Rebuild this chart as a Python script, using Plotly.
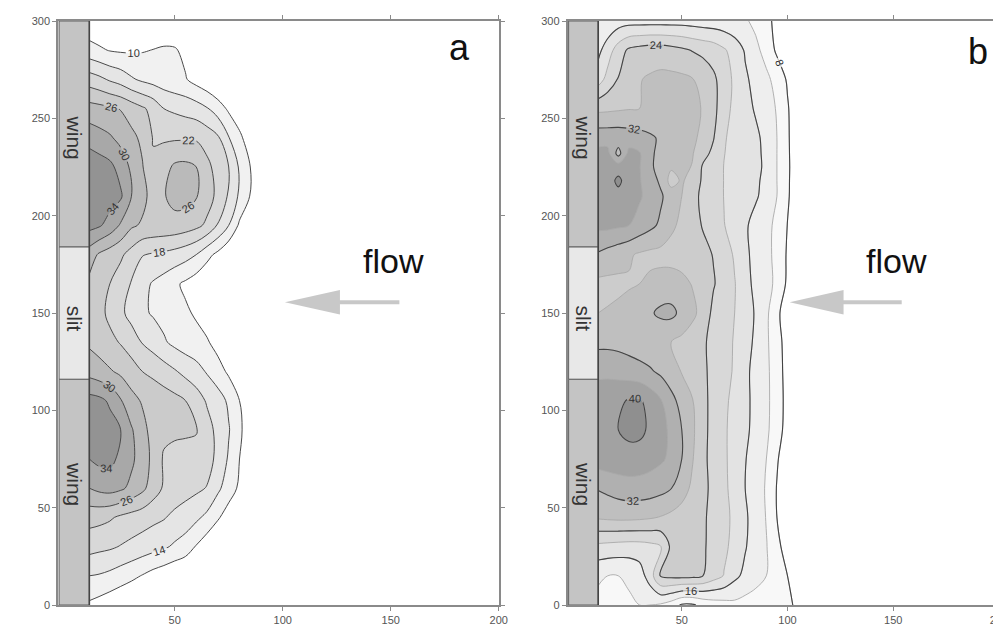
import plotly.graph_objects as go

# ---------------- data ----------------
XA = [10.5, 15, 20, 25, 30, 35, 40, 45, 50, 55, 60, 65, 70, 75, 80, 85, 90, 95, 100, 110]
YA = [0, 15, 30, 45, 60, 75, 90, 105, 120, 135, 150, 165, 180, 195, 210, 225, 240, 255, 270, 285, 300]
ZA = [
    [9.3, 8.5, 7.5, 6.5, 5.5, 4.8, 4, 3.5, 3, 2.5, 2, 1.5, 1, 0.7, 0.5, 0.3, 0, 0, 0, 0],
    [14, 13.7, 13, 12, 11, 9.8, 8.5, 7.5, 6.5, 5.5, 4.5, 3.5, 2.5, 2, 1.5, 1, 0.5, 0, 0, 0],
    [19.5, 19, 18.6, 17.8, 17, 16.2, 15.4, 14.6, 13.4, 12.3, 9.7, 7.5, 5.5, 4, 2.5, 1.5, 1, 0.5, 0, 0],
    [23.5, 23.2, 22.5, 21.3, 20.5, 19.8, 19, 18.3, 17, 16, 14.8, 13, 10.5, 8, 6, 4, 2, 1, 0, 0],
    [30, 31, 31.5, 30.7, 29, 27, 24, 21.5, 20.5, 19.6, 18.8, 17.8, 14.8, 12, 9.3, 6.5, 4, 2, 1, 0],
    [34, 35, 35.2, 33, 30.8, 28, 25, 21.5, 21, 20.8, 20.5, 19.5, 17, 13.5, 10, 7, 4.5, 2.5, 1, 0],
    [37, 36.5, 35.5, 34, 30.4, 27.3, 24.5, 23, 22.6, 22.5, 22.3, 19.6, 16.8, 14.3, 10.8, 7.5, 5, 3, 1.5, 0],
    [35.5, 35, 33.4, 30.3, 27.3, 25.6, 24.8, 24, 23.2, 22, 20, 17.5, 15.8, 13.3, 10, 7, 4.5, 2.5, 1, 0],
    [28.5, 27.6, 26.4, 25.2, 23.8, 22, 21, 19.8, 18.4, 16.8, 15.5, 13.6, 11.6, 9.3, 6.5, 4, 2.5, 1, 0, 0],
    [25.3, 24.3, 23.1, 21.7, 19.9, 17.8, 16.3, 14.5, 13, 12, 11.3, 10.4, 8.5, 6.5, 4.5, 3, 2, 1, 0, 0],
    [24.5, 23.3, 21, 18.8, 16.7, 14.7, 13.6, 12.7, 11.7, 10.6, 9.5, 8, 6.5, 5, 3.5, 2.5, 1.5, 0.5, 0, 0],
    [25, 23.8, 22, 20, 17.7, 15.3, 13.6, 12.3, 10.7, 9.3, 7.8, 6.5, 5, 3.5, 2.5, 1.5, 1, 0.5, 0, 0],
    [28, 25.5, 24, 22.7, 20.5, 18.2, 17.6, 17.2, 16.5, 15.5, 14, 11.2, 9, 6.5, 4.5, 3, 2, 1, 0.5, 0],
    [35.3, 34.5, 32.5, 29.5, 26.6, 25.5, 25, 24.8, 24.6, 24, 23, 21.2, 17.7, 14, 9.3, 6.5, 4.5, 3, 1.5, 0],
    [37.2, 36.5, 35.8, 34.6, 30, 27.2, 24.5, 25.7, 27.3, 27.5, 26.3, 23.7, 21, 17.5, 13.3, 9.8, 7, 4.5, 2.5, 0],
    [36.8, 36, 35, 32.5, 29.2, 26.3, 22.5, 24.5, 26.7, 27, 26, 23, 20.5, 18, 13.5, 10, 7, 4.5, 2.5, 0],
    [32.4, 31.5, 30.5, 28.8, 27, 25.2, 21.8, 21.5, 21.5, 21.5, 21.5, 20.3, 18.6, 14.2, 11, 7.5, 5, 3, 1.5, 0],
    [27.6, 27.2, 26.6, 25.8, 24.2, 22.6, 20.8, 18, 17.3, 16.6, 15.8, 14.3, 12, 9.3, 7, 5, 3, 1.5, 0.5, 0],
    [20, 19, 17.5, 16.3, 14.5, 13.3, 12.5, 11.8, 11, 10.3, 8.5, 7, 5.5, 4, 3, 2, 1, 0.5, 0, 0],
    [11.5, 10.6, 9.8, 9.5, 9.5, 9.7, 10.1, 10.5, 10.4, 9, 7.5, 6, 5, 4, 3, 2, 1, 0.5, 0, 0],
    [7, 6.8, 6.5, 6.3, 6.2, 6.3, 6.5, 6.8, 6.5, 5.5, 4.5, 3.5, 2.5, 2, 1.5, 1, 0.5, 0, 0, 0],
]

XB = [10.5, 15, 20, 25, 30, 35, 40, 45, 50, 55, 60, 65, 70, 75, 80, 85, 90, 95, 100, 105, 110, 120]
YB = [0, 15, 30, 45, 60, 75, 90, 105, 120, 135, 150, 165, 180, 195, 210, 218, 225, 232, 240, 255, 270, 285, 300]
ZB = [
    [11, 11, 11, 11.5, 12, 12, 11.5, 10, 7.5, 7.5, 9, 10, 10.5, 11, 10.5, 10, 9.5, 9, 8.5, 7.5, 2, 0],
    [12.5, 12, 12, 12.5, 14, 18, 24.3, 25, 25.2, 25, 24, 21.8, 19.8, 17, 15, 13.5, 12, 10.2, 8, 5.5, 2, 0],
    [19, 18.7, 18.4, 18.2, 18.3, 18.8, 19.8, 24.8, 25.6, 25.6, 24.6, 22.5, 20.8, 18.8, 16.3, 14, 12.2, 9.2, 6, 3.5, 1, 0],
    [28.5, 28.8, 29, 29, 28.8, 28.4, 27.8, 27, 26.2, 25.4, 24.5, 23, 21, 19.2, 16.5, 14.5, 11.8, 8, 5.3, 3, 1, 0],
    [32.3, 33, 33.8, 34.3, 34.3, 34, 33.3, 32.1, 29.8, 27.2, 25, 23, 20.8, 18.6, 16, 14, 11.6, 7.8, 5, 3, 1, 0],
    [38, 38.3, 38.5, 38.5, 38.2, 37.5, 36.6, 35.2, 32, 28.3, 24.8, 22.8, 20.6, 18.6, 16.2, 14, 12, 8.4, 5.5, 3, 1, 0],
    [38, 38.5, 40, 41, 41, 39.3, 37.3, 35.2, 32, 28.8, 25, 22.8, 20.5, 18.8, 16.8, 14.8, 12.7, 10, 6.2, 3.5, 1, 0],
    [38.5, 38.8, 39.3, 40.3, 40.5, 38.5, 36.3, 33.3, 30.5, 28.2, 25.2, 22.6, 20.8, 18.9, 17, 14.8, 12.8, 10.2, 6.5, 3.5, 1, 0],
    [35, 35, 34.6, 34, 33.3, 32.5, 31.2, 29.5, 27.8, 26.5, 24.8, 22.8, 21.2, 19.6, 17, 14.6, 12.8, 10, 6.3, 3.5, 1, 0],
    [31, 31, 30.8, 30.3, 29.8, 29.2, 28.6, 28, 27, 25.8, 24.6, 22.8, 21.3, 19.7, 17.6, 15.2, 12.6, 9.8, 6, 3.5, 1, 0],
    [28, 28.3, 28.8, 29.5, 30.5, 31.5, 32.8, 33, 31, 29, 26.5, 23, 21.5, 20, 17.8, 15.6, 12.8, 9, 5.5, 3, 1, 0],
    [27, 27, 27.2, 27.6, 28, 28.8, 29.5, 29.7, 29, 27.8, 26.2, 24.3, 22.3, 20.2, 17.3, 15, 13.5, 11, 7.3, 5, 2, 0],
    [31.5, 30.5, 29.5, 28.5, 27.5, 27, 26.8, 26.6, 26.4, 26, 25.2, 23.8, 22, 19.5, 16.8, 14.8, 13, 11, 7.5, 5, 2, 0],
    [37, 37, 36.6, 36, 34.5, 33, 31.3, 28.7, 27.2, 25.7, 23.7, 22, 20.1, 18.8, 16.6, 14.5, 13.2, 11, 7.9, 5, 2, 0],
    [38, 38.5, 38.5, 38, 36.5, 34.5, 32.6, 30, 28, 25, 23.3, 21.8, 19.9, 19, 18, 16.5, 14.5, 12, 8.6, 5, 2, 0],
    [37.5, 38, 41, 37.8, 36.3, 33.8, 31.3, 26.5, 28.5, 26.4, 23.4, 21.9, 19.9, 18.9, 17.8, 16.7, 14.9, 12, 8.7, 5, 2, 0],
    [37, 37.5, 38, 37.5, 36.2, 33, 30, 28.5, 29, 27.8, 23.5, 22, 19.9, 18.8, 17.7, 16.9, 15.3, 12, 8.8, 5, 2, 0],
    [37, 37, 30.5, 37, 36.3, 32.8, 30.8, 29.6, 29.4, 28.3, 25.3, 23.1, 20.1, 18.9, 17.8, 16.8, 15.2, 12, 8.7, 5, 2, 0],
    [34.5, 34.5, 34.5, 34, 33.5, 32.6, 31.5, 30.6, 29.8, 28.8, 27, 24.2, 20.3, 19, 17.8, 16.7, 15, 12, 8.6, 5, 2, 0],
    [27, 27.2, 27.5, 27.8, 28, 28.5, 29, 29.3, 29.2, 28.8, 27.8, 25.2, 21.5, 19, 17.2, 15.6, 13.8, 11.7, 8.4, 5, 2, 0],
    [18, 21.5, 24.2, 26.5, 27.8, 28.5, 29, 29, 28.8, 28.2, 26.8, 24.8, 22, 19.2, 16.6, 14.8, 12.9, 10.6, 7.5, 5, 2, 0],
    [15, 18, 22, 24.7, 25.5, 26, 26, 25.5, 24.8, 23.8, 23, 22.2, 20.5, 18.3, 15.6, 13, 10.5, 7.3, 5, 3, 1, 0],
    [13, 13, 14, 14.5, 14.5, 14.5, 14.5, 14.5, 14.5, 14.3, 14, 13.8, 13.5, 13, 12.5, 11, 9, 7, 5, 3, 1, 0],
]

X_TICKS = [50, 100, 150, 200]
Y_TICKS = [0, 50, 100, 150, 200, 250, 300]

# wall sections (y ranges) and labels
SECTIONS = [(0, 116, "wing"), (116, 184, "slit"), (184, 300, "wing")]
LABEL_Y = {"wing_low": 62, "slit": 147, "wing_up": 240}

# band colours
GRAYS_A = ["#ffffff", "#f1f1f1", "#e5e5e5", "#d8d8d8", "#cbcbcb", "#bababa", "#a8a8a8", "#939393"]
GRAYS_B = ["#ffffff", "#f8f8f8", "#eeeeee", "#e3e3e3", "#d8d8d8", "#cccccc", "#bfbfbf", "#b0b0b0", "#a2a2a2", "#8f8f8f"]


def scale(colors):
    n = len(colors) - 1
    return [[i / n, c] for i, c in enumerate(colors)]


fig = go.Figure()

fig.add_trace(go.Contour(
    x=XA, y=YA, z=ZA, xaxis="x", yaxis="y",
    colorscale=scale(GRAYS_A), showscale=False, hoverinfo="skip",
    autocontour=False,
    contours=dict(start=10, end=34, size=4, coloring="fill", showlabels=True,
                  labelfont=dict(size=11, color="#333333", family="Arial")),
    line=dict(color="#4a4a4a", width=1, smoothing=1),
))

fig.add_trace(go.Contour(
    x=XB, y=YB, z=ZB, xaxis="x2", yaxis="y2",
    colorscale=scale(GRAYS_B), showscale=False, hoverinfo="skip",
    autocontour=False,
    contours=dict(start=8, end=40, size=4, coloring="fill", showlabels=False),
    line=dict(color="#a9a9a9", width=0.9, smoothing=1),
))
fig.add_trace(go.Contour(
    x=XB, y=YB, z=ZB, xaxis="x2", yaxis="y2",
    showscale=False, hoverinfo="skip",
    autocontour=False,
    contours=dict(start=8, end=40, size=8, coloring="none", showlabels=True,
                  labelfont=dict(size=11, color="#333333", family="Arial")),
    line=dict(color="#444444", width=1.1, smoothing=1),
))

shapes = []
annotations = []
for xr, yr, panel in [("x", "y", "a"), ("x2", "y2", "b")]:
    for y0, y1, name in SECTIONS:
        shapes.append(dict(type="rect", xref=xr, yref=yr, x0=-3.5, x1=10.5, y0=y0, y1=y1,
                           fillcolor="#c4c4c4" if name == "wing" else "#e8e8e8",
                           line=dict(color="#606060", width=1), layer="above"))
    shapes.append(dict(type="line", xref=xr, yref=yr, x0=10.5, x1=10.5, y0=0, y1=300,
                       line=dict(color="#444444", width=1.6)))
    for key, txt in [("wing_low", "wing"), ("slit", "slit"), ("wing_up", "wing")]:
        annotations.append(dict(xref=xr, yref=yr, x=3.5, y=LABEL_Y[key], text=txt,
                                showarrow=False, textangle=90,
                                font=dict(size=21, color="#333333", family="Arial")))
    # flow arrow
    shapes.append(dict(type="line", xref=xr, yref=yr, x0=125, x1=154, y0=155.5, y1=155.5,
                       line=dict(color="#c8c8c8", width=4)))
    shapes.append(dict(type="path", xref=xr, yref=yr,
                       path="M 101,155.5 L 126.5,161.8 L 126.5,149.2 Z",
                       fillcolor="#c8c8c8", line=dict(width=0)))
    annotations.append(dict(xref=xr, yref=yr, x=151.5, y=176.5, text="flow", showarrow=False,
                            font=dict(size=34, color="#111111", family="Arial")))
    annotations.append(dict(xref=xr, yref=yr, x=182 if panel == "a" else 190,
                            y=286.5 if panel == "a" else 284.5, text=panel, showarrow=False,
                            font=dict(size=36, color="#111111", family="Arial")))

axis_common = dict(showgrid=False, zeroline=False, showline=True, linecolor="#8a8a8a", linewidth=1.5,
                   mirror="ticks", ticks="outside", ticklen=4, tickcolor="#8a8a8a",
                   tickfont=dict(size=11, color="#555555", family="Arial"))

fig.update_layout(
    width=1001, height=627,
    margin=dict(l=50, r=1, t=13, b=30),
    paper_bgcolor="white", plot_bgcolor="white", showlegend=False,
    xaxis=dict(domain=[0, 0.4684], range=[-4, 200], tickvals=X_TICKS, anchor="y", **axis_common),
    yaxis=dict(domain=[0, 1], range=[0, 300], tickvals=Y_TICKS, anchor="x", **axis_common),
    xaxis2=dict(domain=[0.5415, 1], range=[-4, 200], tickvals=X_TICKS, anchor="y2", **axis_common),
    yaxis2=dict(domain=[0, 1], range=[0, 300], tickvals=Y_TICKS, anchor="x2", **axis_common),
    shapes=shapes, annotations=annotations,
)

fig.write_html("out.html")
